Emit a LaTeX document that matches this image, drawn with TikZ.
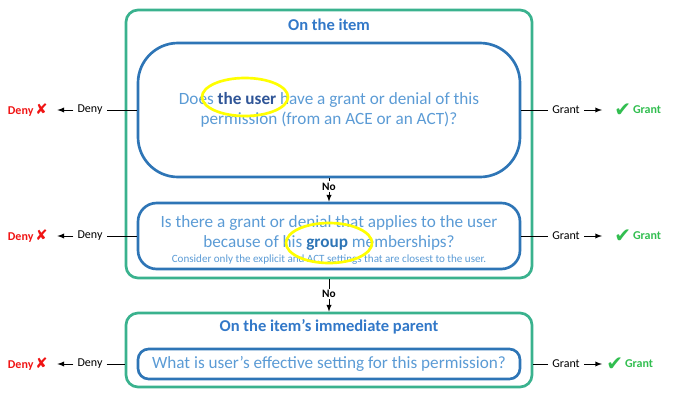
\documentclass[tikz,border=0pt]{standalone}
\usepackage{fontspec}
\setmainfont{Carlito}
\newfontfamily\symbolfont{DejaVu Sans}
\usetikzlibrary{shapes.geometric}

\definecolor{itemgreen}{RGB}{58,178,142}
\definecolor{boxblue}{RGB}{46,117,182}
\definecolor{textblue}{RGB}{91,155,213}
\definecolor{titleblue}{RGB}{50,120,200}
\definecolor{userblue}{RGB}{47,85,151}
\definecolor{hiyellow}{RGB}{255,255,0}
\definecolor{denyred}{RGB}{240,20,20}
\definecolor{grantgreen}{RGB}{50,190,80}

\newcommand{\denied}{Deny\,{\symbolfont\fontsize{11}{11}\selectfont ✘}}
\newcommand{\granted}{\raisebox{-2pt}{\symbolfont\fontsize{15}{15}\selectfont ✔}\,Grant}

\begin{document}
\begin{tikzpicture}[
    x=0.75pt, y=-0.75pt,
    outerbox/.style={draw=itemgreen, line width=2pt, rounded corners=9pt, minimum width=304.5pt},
    innerbox/.style={draw=boxblue, line width=2pt, minimum width=286.5pt, text=textblue, align=center, font=\fontsize{12.9}{15}\selectfont},
    title/.style={text=titleblue, font=\bfseries\fontsize{12.4}{15}\selectfont},
    hilite/.style={ellipse, draw=hiyellow, line width=2pt, minimum width=64.5pt, minimum height=28.5pt},
    answer/.style={fill=white, inner sep=1pt, font=\bfseries\fontsize{8.5}{10}\selectfont},
    sidelabel/.style={inner sep=3pt, font=\fontsize{9}{11}\selectfont},
    denyres/.style={anchor=east, inner sep=0pt, text=denyred, font=\bfseries\fontsize{9}{11}\selectfont},
    grantres/.style={anchor=west, inner sep=0pt, text=grantgreen, font=\bfseries\fontsize{9}{11}\selectfont}
]
    \useasboundingbox (0,0) rectangle (689,400);

    % Outer frames
    \node[outerbox, minimum height=201pt] (item) at (329,144) {};
    \node[outerbox, minimum height=55.5pt] (parent) at (329,350) {};

    % Titles
    \node[title] (itemtitle) at (329,25) {On the item};
    \node[title] (parenttitle) at (329,327) {On the item’s immediate parent};

    % Questions
    \node[innerbox, minimum height=100.5pt, rounded corners=30pt] (q1) at (329,110)
        {Does \textbf{\color{userblue}the user} have a grant or denial of this\\permission (from an ACE or an ACT)?};
    \node[innerbox, minimum height=49.5pt, rounded corners=14pt] (q2) at (329,236)
        {\rule{0pt}{15pt}Is there a grant or denial that applies to the user\\because of his \textbf{\color{boxblue}group} memberships?\\[-4pt]
         {\fontsize{8.3}{9}\selectfont Consider only the explicit and ACT settings that are closest to the user.}};
    \node[innerbox, minimum height=22.5pt, rounded corners=8pt, inner sep=1pt] (q3) at (329,364)
        {What is user’s effective setting for this permission?};

    % Highlights
    \node[hilite] (hl1) at (245,97) {};
    \node[hilite, minimum height=30pt] (hl2) at (329,243) {};

    % Flow down
    \draw[-latex, line width=0.75pt] (q1) -- (q2) node[pos=0.35, answer] {No};
    \draw[-latex, line width=0.75pt] (item) -- (parent) node[pos=0.45, answer] {No};

    % Row 1
    \node[sidelabel] (deny1) at (90,110) {Deny};
    \node[denyres] (denied1) at (48,110) {\denied};
    \node[sidelabel] (grant1) at (566,110) {Grant};
    \node[grantres] (granted1) at (614,110) {\granted};
    \draw[line width=0.75pt] (q1) -- (deny1);
    \draw[-latex, line width=0.75pt, shorten >=7pt] (deny1) -- (denied1);
    \draw[line width=0.75pt] (q1) -- (grant1);
    \draw[-latex, line width=0.75pt, shorten >=9pt] (grant1) -- (granted1);

    % Row 2
    \node[sidelabel] (deny2) at (90,236) {Deny};
    \node[denyres] (denied2) at (48,236) {\denied};
    \node[sidelabel] (grant2) at (566,236) {Grant};
    \node[grantres] (granted2) at (614,236) {\granted};
    \draw[line width=0.75pt] (q2) -- (deny2);
    \draw[-latex, line width=0.75pt, shorten >=7pt] (deny2) -- (denied2);
    \draw[line width=0.75pt] (q2) -- (grant2);
    \draw[-latex, line width=0.75pt, shorten >=9pt] (grant2) -- (granted2);

    % Row 3
    \node[sidelabel] (deny3) at (90,364) {Deny};
    \node[denyres] (denied3) at (48,364) {\denied};
    \node[sidelabel] (grant3) at (566,364) {Grant};
    \node[grantres] (granted3) at (606,364) {\granted};
    \draw[line width=0.75pt] (deny3) -- (deny3 -| parent.west);
    \draw[-latex, line width=0.75pt, shorten >=7pt] (deny3) -- (denied3);
    \draw[line width=0.75pt] (grant3) -- (grant3 -| parent.east);
    \draw[-latex, line width=0.75pt, shorten >=3pt] (grant3) -- (granted3);

\end{tikzpicture}
\end{document}
